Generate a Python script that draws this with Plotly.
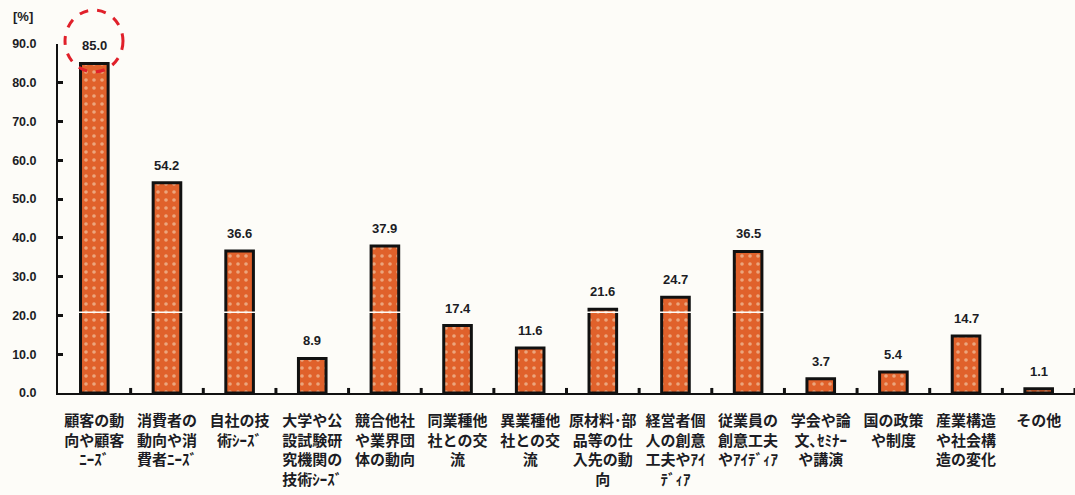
import plotly.graph_objects as go

# Sources of ideas for new products (% of respondents)
categories = [
    "顧客の動<br>向や顧客<br>ﾆｰｽﾞ",
    "消費者の<br>動向や消<br>費者ﾆｰｽﾞ",
    "自社の技<br>術ｼｰｽﾞ",
    "大学や公<br>設試験研<br>究機関の<br>技術ｼｰｽﾞ",
    "競合他社<br>や業界団<br>体の動向",
    "同業種他<br>社との交<br>流",
    "異業種他<br>社との交<br>流",
    "原材料･部<br>品等の仕<br>入先の動<br>向",
    "経営者個<br>人の創意<br>工夫やｱｲ<br>ﾃﾞｨｱ",
    "従業員の<br>創意工夫<br>やｱｲﾃﾞｨｱ",
    "学会や論<br>文､ｾﾐﾅｰ<br>や講演",
    "国の政策<br>や制度",
    "産業構造<br>や社会構<br>造の変化",
    "その他",
]
values = [85.0, 54.2, 36.6, 8.9, 37.9, 17.4, 11.6, 21.6, 24.7, 36.5, 3.7, 5.4, 14.7, 1.1]
y_ticks = [0, 10, 20, 30, 40, 50, 60, 70, 80, 90]

bg = "#fdfcf8"
ink = "#1c1c24"
xs = list(range(len(values)))

fig = go.Figure()
fig.add_trace(go.Bar(
    x=xs,
    y=values,
    width=0.38,
    marker=dict(
        color="#e0612b",
        line=dict(color="#111111", width=3),
        pattern=dict(shape=".", fgcolor="#f6e9cf", bgcolor="#e0612b", size=8, solidity=0.16),
    ),
    hoverinfo="skip",
))

# value labels above each bar
for x, v in zip(xs, values):
    fig.add_annotation(x=x, y=v, text=f"{v:.1f}", showarrow=False,
                       xref="x", yref="y", yanchor="bottom", yshift=8,
                       font=dict(family="Liberation Sans", size=13, color=ink, weight="bold"))

fig.update_layout(
    width=1075, height=495,
    paper_bgcolor=bg, plot_bgcolor=bg,
    margin=dict(l=58, r=0, t=44, b=102),
    showlegend=False,
    xaxis=dict(
        range=[-0.5, len(values) - 0.5],
        tickmode="array",
        tickvals=xs,
        ticktext=categories,
        showline=True, linecolor="#111111", linewidth=2,
        ticks="", showgrid=False, zeroline=False,
        tickfont=dict(family="Noto Sans CJK JP", size=15, color=ink, weight="bold"),
        ticklabelstandoff=13,
    ),
    yaxis=dict(
        range=[0, 90],
        tickvals=y_ticks,
        tickformat=".1f",
        showline=True, linecolor="#111111", linewidth=2,
        ticks="inside", ticklen=5, tickwidth=3, tickcolor="#111111",
        showgrid=False, zeroline=False,
        tickfont=dict(family="Liberation Sans", size=12.5, color=ink, weight="bold"),
        ticklabelstandoff=17,
    ),
)

# small boundary ticks on the category axis
for i in range(len(values)):
    fig.add_shape(type="line", xref="x", yref="y",
                  x0=i + 0.5, x1=i + 0.5, y0=0, y1=1.3,
                  line=dict(color="#111111", width=3))

# thin light streak across the taller bars
fig.add_shape(type="line", xref="paper", yref="y", x0=0.01, x1=1, y0=20.8, y1=20.8,
              line=dict(color=bg, width=1.5), layer="above")

# unit label
fig.add_annotation(text="[%]", xref="paper", yref="paper", x=-0.046, y=1.078,
                   xanchor="left", yanchor="middle", showarrow=False,
                   font=dict(family="Liberation Sans", size=13, color=ink, weight="bold"))

# red dashed highlight around the top value
fig.add_shape(type="circle", xref="paper", yref="paper",
              x0=0.0069, x1=0.0639, y0=0.92, y1=1.097,
              line=dict(color="#e0202a", width=3, dash="dash"))

fig.write_html("out.html")
